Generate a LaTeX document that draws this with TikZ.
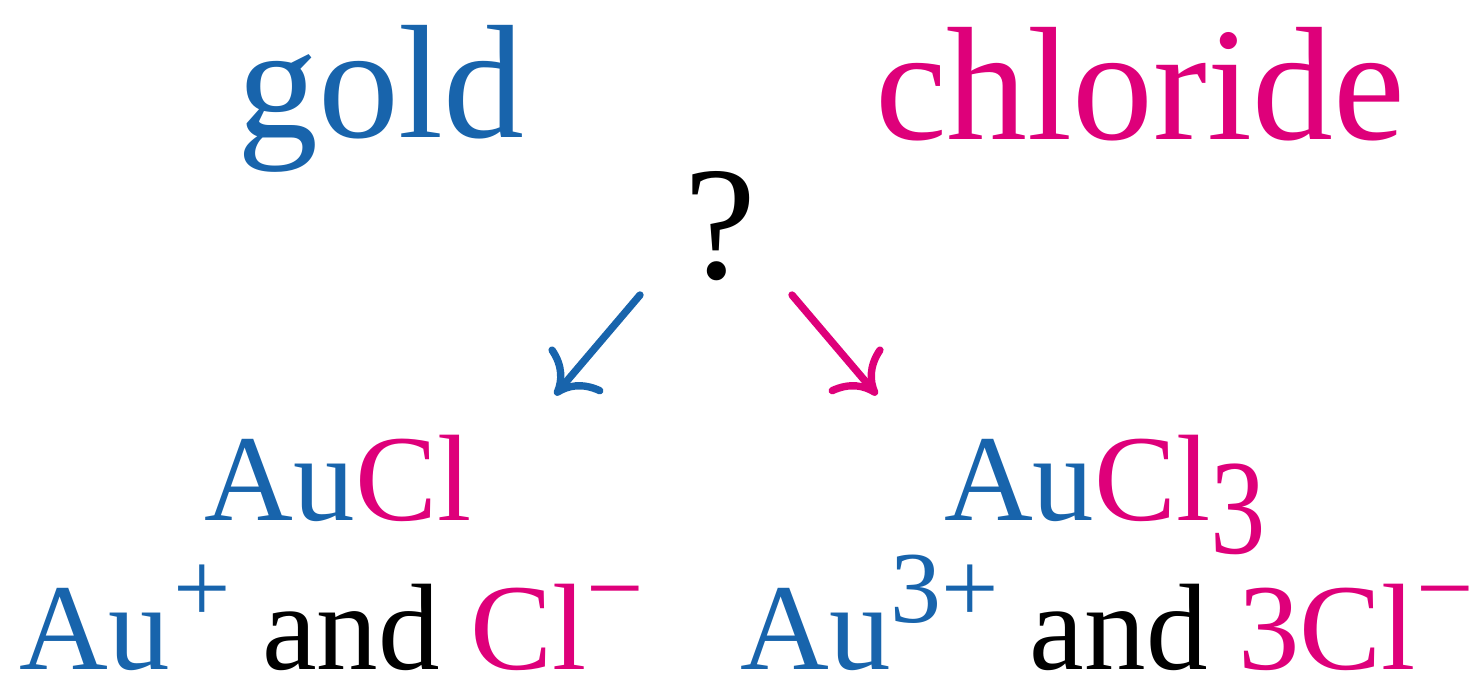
\documentclass[tikz,border=0pt]{standalone}
\usepackage{fontspec}
\setmainfont{Liberation Serif}
\usepackage{tikz}
\usetikzlibrary{arrows.meta}
\definecolor{goldblue}{RGB}{24,100,172}
\definecolor{chlpink}{RGB}{222,0,122}
\newcommand{\ionch}[1]{\raisebox{0.47cm}{\fontsize{29}{29}\selectfont #1}}
\newcommand{\Au}{\textcolor{goldblue}{Au}}
\newcommand{\Cl}{\textcolor{chlpink}{Cl}}

\begin{document}
\begin{tikzpicture}[
  word/.style={anchor=base, inner sep=0pt, font=\fontsize{46}{46}\selectfont},
  formula/.style={anchor=base, inner sep=0pt, font=\fontsize{35}{35}\selectfont},
  arr/.style={-{Computer Modern Rightarrow[length=3.6mm,width=7mm]}, line width=2.1pt, line cap=round}
]
\useasboundingbox (0,0) rectangle (14.81,6.78);

\node[word, text=goldblue] (gold) at (3.81,5.40) {gold};
\node[word, text=chlpink]  (chl)  at (11.40,5.38) {chloride};
\node[word] (quest) at (7.20,4.00) {?};

\node[formula] (aucl)  at (3.38,1.58)  {\Au\Cl};
\node[formula] (aucl3) at (11.05,1.58) {\Au\Cl\textcolor{chlpink}{\raisebox{-0.33cm}{\scalebox{0.9}[1.1]{3}}}};

\node[formula] (ionsL) at (3.32,0.09)  {\Au\kern1pt\ionch{\textcolor{goldblue}{+}} and \Cl\ionch{\textcolor{chlpink}{−}}};
\node[formula] (ionsR) at (11.07,0.09) {\Au\ionch{\textcolor{goldblue}{3+}} and \textcolor{chlpink}{3}\Cl\ionch{\textcolor{chlpink}{−}}};

% arrows from the question mark
\coordinate (qL) at (6.40,3.83);
\coordinate (qR) at (7.92,3.83);
\coordinate (tL) at (5.55,2.83);
\coordinate (tR) at (8.77,2.83);
\draw[arr, goldblue] (qL) -- (tL);
\draw[arr, chlpink]  (qR) -- (tR);
\end{tikzpicture}
\end{document}
